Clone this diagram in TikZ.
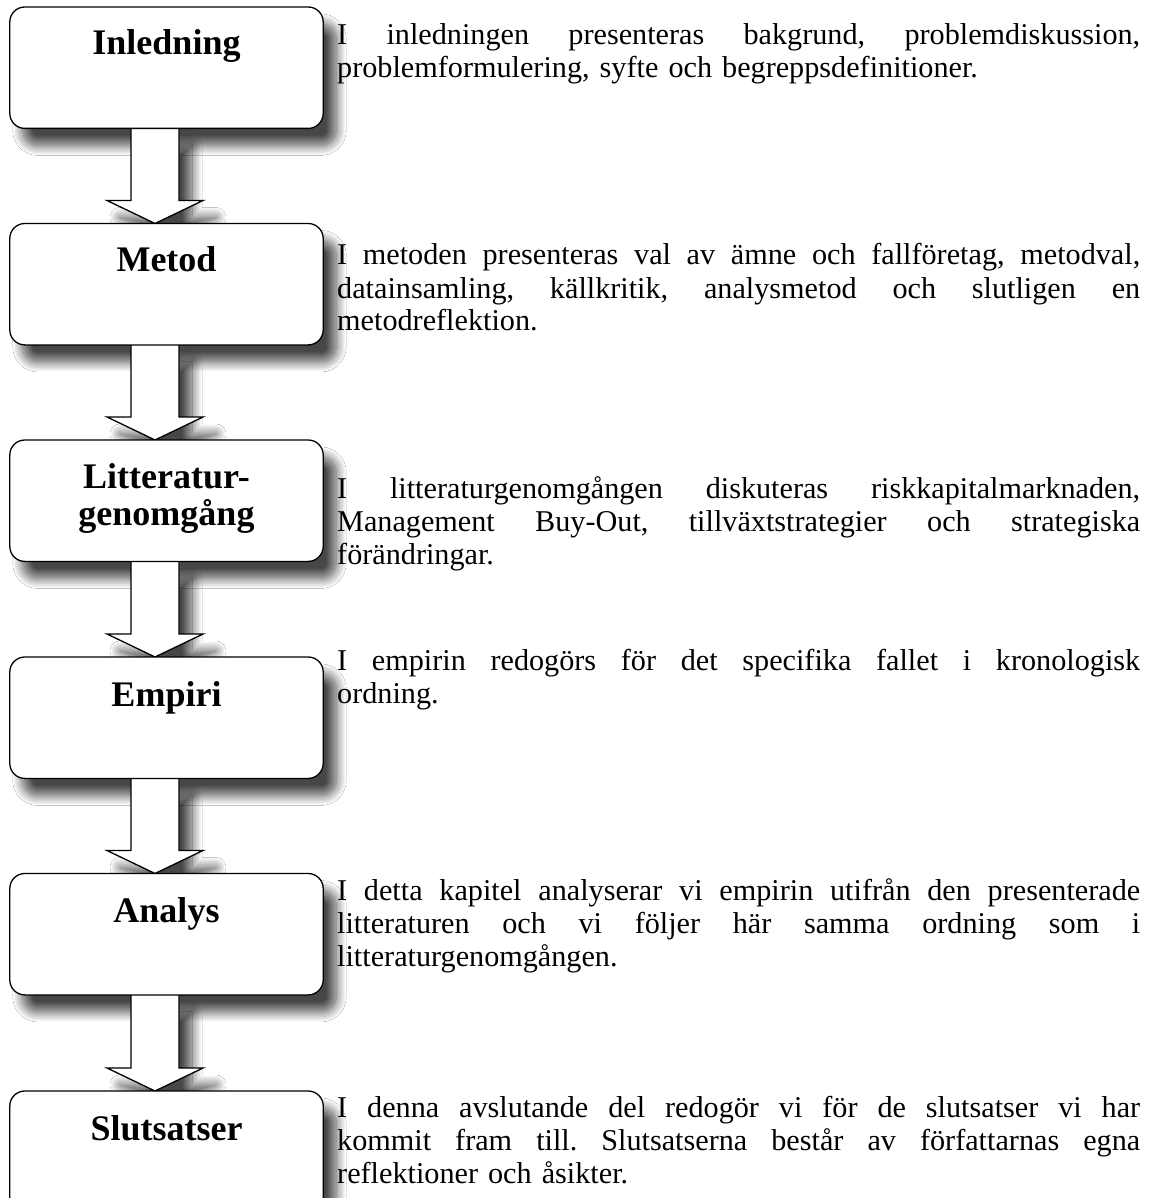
\documentclass[tikz,border=0pt]{standalone}
\usepackage{fontspec}
\setmainfont{Liberation Serif}
\usetikzlibrary{calc,shadows.blur}

\tikzset{
  stageslot/.style={minimum width=313pt, minimum height=121pt, inner sep=0pt, anchor=north},
  stageframe/.style={draw, line width=1.3pt, fill=white, rounded corners=15pt},
  stagehead/.style={anchor=base, inner sep=0pt, align=center,
    font=\bfseries\fontsize{36}{37}\selectfont},
  stagetext/.style={anchor=base west, inner sep=0pt, text width=803pt, align=left,
    font=\fontsize{30.2}{33}\selectfont\frenchspacing},
  dropshadow/.style={fill=white, blur shadow={shadow xshift=13pt, shadow yshift=-17pt,
    shadow blur radius=10pt, shadow blur steps=14, shadow opacity=72}},
  flowbody/.style={draw, line width=1.3pt, fill=white, line join=miter},
}

% one justified line of the description text
\newcommand\jline[1]{\leavevmode\hbox to 803pt{\spaceskip=.25em plus 1fil\relax#1}\\}

% outline of a hollow block arrow from the bottom of box #1 to the top of box #2
\newcommand\arrowoutline[2]{let \p1=($(#1.south)+(-11.5,0)$), \p2=(#2.north) in
  (\x1-24pt,\y1) -- (\x1-24pt,\y2+23pt) -- (\x1-48pt,\y2+23pt) -- (\x1,\y2)
  -- (\x1+48pt,\y2+23pt) -- (\x1+24pt,\y2+23pt) -- (\x1+24pt,\y1)}

\begin{document}
\begin{tikzpicture}[x=1pt,y=-1pt]
\useasboundingbox (0,0) rectangle (1148,1198);
\fill[white] (0,0) rectangle (1148,1198);

% places of the stage boxes
\node[stageslot] (s1) at (166.5,7) {};
\node[stageslot] (s2) at (166.5,223.5) {};
\node[stageslot] (s3) at (166.5,440) {};
\node[stageslot] (s4) at (166.5,657) {};
\node[stageslot] (s5) at (166.5,873.5) {};
\node[stageslot] (s6) at (166.5,1091) {};

% soft shadows first, so that arrows and boxes lie on top of them
\foreach \b in {s1,s2,s3,s4,s5,s6}
  \path[dropshadow, rounded corners=15pt] (\b.north west) rectangle (\b.south east);
\foreach \a/\b in {s1/s2,s2/s3,s3/s4,s4/s5,s5/s6}
  \path[dropshadow] \arrowoutline{\a}{\b} -- cycle;

% arrows between the stages
\foreach \a/\b in {s1/s2,s2/s3,s3/s4,s4/s5,s5/s6}
  \draw[flowbody] \arrowoutline{\a}{\b};

% stage boxes
\foreach \b in {s1,s2,s3,s4,s5,s6}
  \draw[stageframe] (\b.north west) rectangle (\b.south east);

% box titles
\node[stagehead] (h1) at ($(s1.north)+(0,48)$) {Inledning};
\node[stagehead] (h2) at ($(s2.north)+(0,48)$) {Metod};
\node[stagehead] (h3) at ($(s3.north)+(0,85)$) {Litteratur-\\genomgång};
\node[stagehead] (h4) at ($(s4.north)+(0,49)$) {Empiri};
\node[stagehead] (h5) at ($(s5.north)+(0,49)$) {Analys};
\node[stagehead] (h6) at ($(s6.north)+(0,49)$) {Slutsatser};

% descriptions
\node[stagetext] (t1) at (337,45) {\jline{I inledningen presenteras bakgrund, problemdiskussion,}problemformulering, syfte och begreppsdefinitioner.};
\node[stagetext] (t2) at (337,265) {\jline{I metoden presenteras val av ämne och fallföretag, metodval,}\jline{datainsamling, källkritik, analysmetod och slutligen en}metodreflektion.};
\node[stagetext] (t3) at (337,498) {\jline{I litteraturgenomgången diskuteras riskkapitalmarknaden,}\jline{Management Buy-Out, tillväxtstrategier och strategiska}förändringar.};
\node[stagetext] (t4) at (337,670) {\jline{I empirin redogörs för det specifika fallet i kronologisk}ordning.};
\node[stagetext] (t5) at (337,900) {\jline{I detta kapitel analyserar vi empirin utifrån den presenterade}\jline{litteraturen och vi följer här samma ordning som i}litteraturgenomgången.};
\node[stagetext] (t6) at (337,1117) {\jline{I denna avslutande del redogör vi för de slutsatser vi har}\jline{kommit fram till. Slutsatserna består av författarnas egna}reflektioner och åsikter.};
\end{tikzpicture}
\end{document}
